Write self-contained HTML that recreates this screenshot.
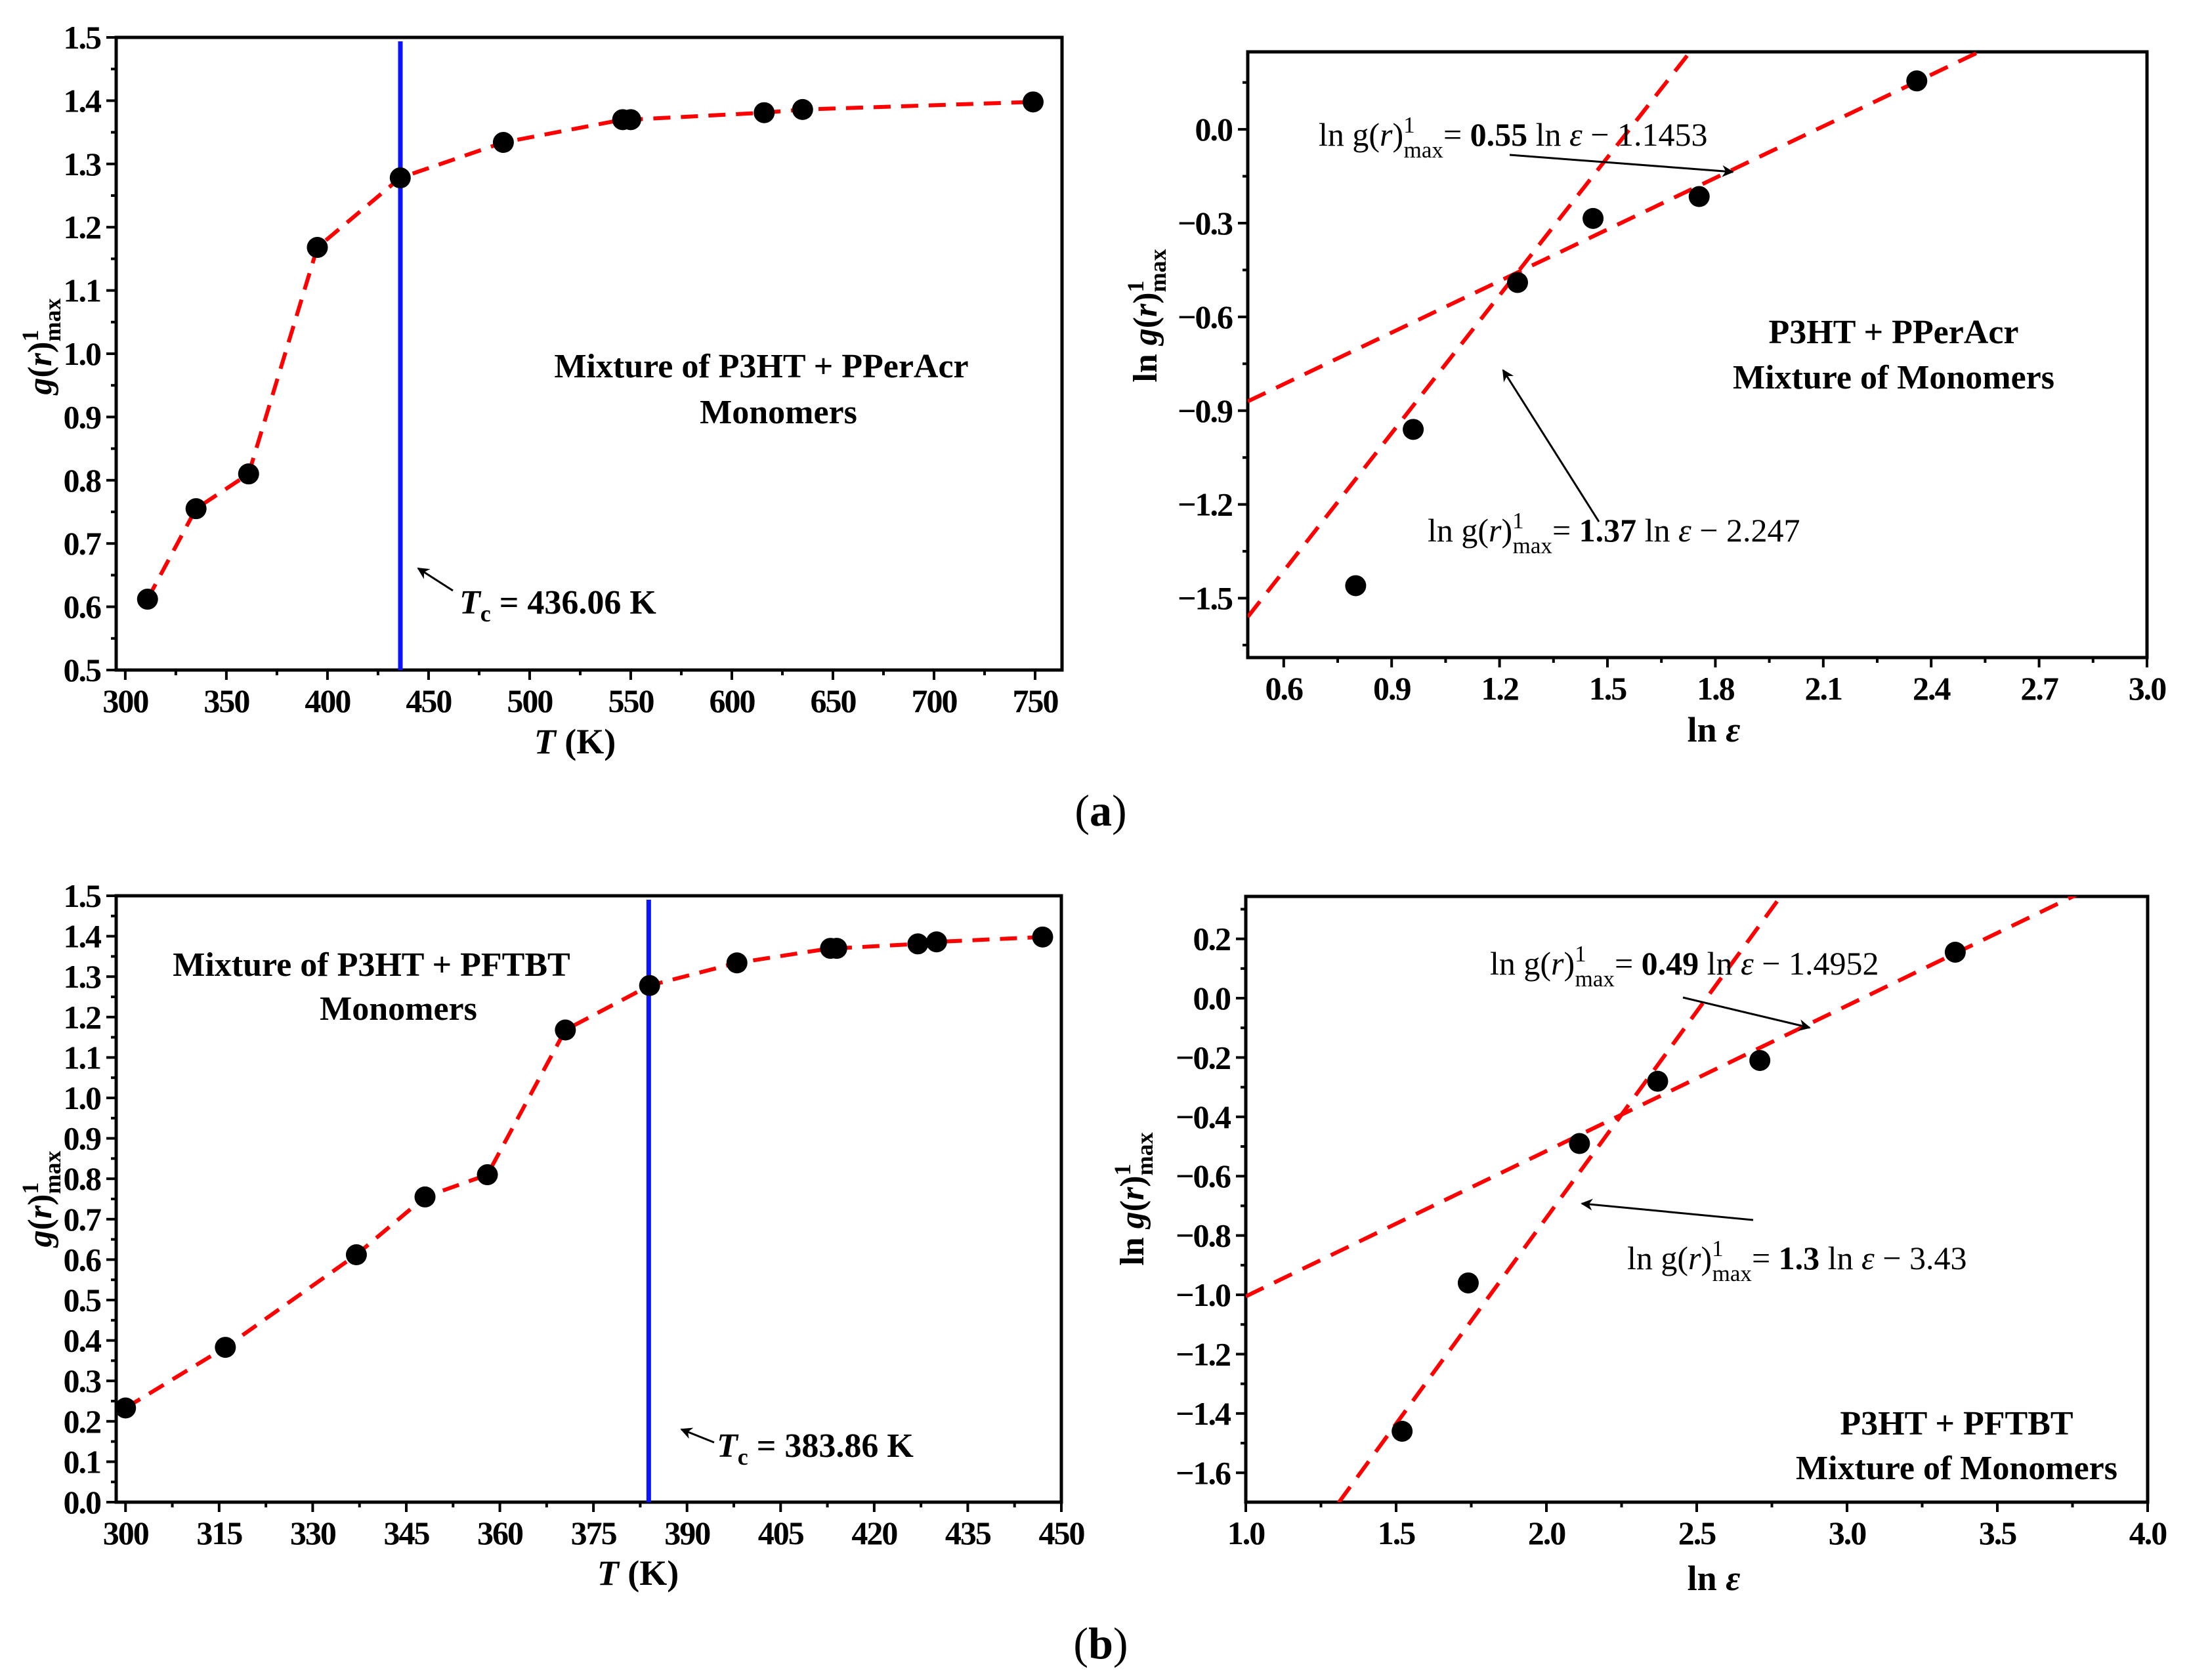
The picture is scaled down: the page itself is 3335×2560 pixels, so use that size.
<!DOCTYPE html>
<html><head><meta charset="utf-8"><style>
html,body{margin:0;padding:0;background:#fff}
svg{display:block}
text{font-family:"Liberation Serif",serif;fill:#000}
</style></head><body>
<svg id="fig" width="3335" height="2560" viewBox="0 0 3335 2560" xmlns="http://www.w3.org/2000/svg">
<defs>
<marker id="ahb" viewBox="0 0 10 10" refX="9" refY="5" markerWidth="24" markerHeight="18" orient="auto" markerUnits="userSpaceOnUse"><path d="M0,0 L10,5 L0,10 L3,5 Z" fill="#000"/></marker></defs>
<g id="layer"></g>
<g font-size="50">
 <text x="1160" y="575" text-anchor="middle" font-weight="bold" font-size="52">Mixture of P3HT + PPerAcr</text>
 <text x="1186" y="645" text-anchor="middle" font-weight="bold" font-size="52">Monomers</text>
 <text x="700" y="935" font-weight="bold" font-size="52"><tspan font-style="italic">T</tspan><tspan font-size="36" dy="12">c</tspan><tspan dy="-12"> = 436.06 K</tspan></text>
 <line x1="690" y1="900" x2="637" y2="866" stroke="#000" stroke-width="3" marker-end="url(#ahb)"/>
 <text x="2009" y="222" font-size="50">ln g(<tspan font-style="italic">r</tspan>)<tspan font-size="35" dy="-20">1</tspan><tspan font-size="35" dx="-17" dy="38">max</tspan><tspan dy="-18">= </tspan><tspan font-weight="bold">0.55</tspan> ln <tspan font-style="italic">ε</tspan> − 1.1453</text>
 <line x1="2300" y1="236" x2="2640" y2="262" stroke="#000" stroke-width="3" marker-end="url(#ahb)"/>
 <text x="2175" y="825" font-size="50">ln g(<tspan font-style="italic">r</tspan>)<tspan font-size="35" dy="-20">1</tspan><tspan font-size="35" dx="-17" dy="38">max</tspan><tspan dy="-18">= </tspan><tspan font-weight="bold">1.37</tspan> ln <tspan font-style="italic">ε</tspan> − 2.247</text>
 <line x1="2436" y1="795" x2="2290" y2="564" stroke="#000" stroke-width="3" marker-end="url(#ahb)"/>
 <text x="2885" y="523" text-anchor="middle" font-weight="bold" font-size="52">P3HT + PPerAcr</text>
 <text x="2885" y="592" text-anchor="middle" font-weight="bold" font-size="52">Mixture of Monomers</text>
 <text x="1677" y="1258" text-anchor="middle" font-size="68">(<tspan font-weight="bold">a</tspan>)</text>

 <text x="566" y="1487" text-anchor="middle" font-weight="bold" font-size="52">Mixture of P3HT + PFTBT</text>
 <text x="607" y="1554" text-anchor="middle" font-weight="bold" font-size="52">Monomers</text>
 <text x="1092" y="2220" font-weight="bold" font-size="52"><tspan font-style="italic">T</tspan><tspan font-size="36" dy="12">c</tspan><tspan dy="-12"> = 383.86 K</tspan></text>
 <line x1="1088" y1="2198" x2="1038" y2="2178" stroke="#000" stroke-width="3" marker-end="url(#ahb)"/>
 <text x="2270" y="1485" font-size="50">ln g(<tspan font-style="italic">r</tspan>)<tspan font-size="35" dy="-20">1</tspan><tspan font-size="35" dx="-17" dy="38">max</tspan><tspan dy="-18">= </tspan><tspan font-weight="bold">0.49</tspan> ln <tspan font-style="italic">ε</tspan> − 1.4952</text>
 <line x1="2564" y1="1520" x2="2757" y2="1566" stroke="#000" stroke-width="3" marker-end="url(#ahb)"/>
 <text x="2479" y="1934" font-size="50">ln g(<tspan font-style="italic">r</tspan>)<tspan font-size="35" dy="-20">1</tspan><tspan font-size="35" dx="-17" dy="38">max</tspan><tspan dy="-18">= </tspan><tspan font-weight="bold">1.3</tspan> ln <tspan font-style="italic">ε</tspan> − 3.43</text>
 <line x1="2671" y1="1859" x2="2410" y2="1834" stroke="#000" stroke-width="3" marker-end="url(#ahb)"/>
 <text x="2981" y="2186" text-anchor="middle" font-weight="bold" font-size="52">P3HT + PFTBT</text>
 <text x="2981" y="2254" text-anchor="middle" font-weight="bold" font-size="52">Mixture of Monomers</text>
 <text x="1677" y="2527" text-anchor="middle" font-size="68">(<tspan font-weight="bold">b</tspan>)</text>
</g>
</svg>
<script>
// ---- data ----
const aTemps = [311, 335, 361, 395, 436, 487, 546, 550, 616, 635, 749];
const aG = [0.612, 0.755, 0.81, 1.168, 1.278, 1.334, 1.37, 1.37, 1.381, 1.386, 1.398];
const aTc = 436.06;
const bTemps = [300, 316, 337, 348, 358, 370.5, 384, 398, 413, 414, 427, 430, 447];
const bG = [0.233, 0.383, 0.612, 0.755, 0.81, 1.168, 1.278, 1.334, 1.37, 1.37, 1.381, 1.386, 1.398];
const bTc = 383.86;
const aLnEps = [0.80, 0.96, 1.25, 1.46, 1.755, 2.36];
const aLnG = [-1.46, -0.96, -0.49, -0.285, -0.215, 0.155];
const aFitSlopes = [0.55, 1.47];
const aFitIntercepts = [-1.1453, -2.295];
const bLnEps = [1.52, 1.74, 2.11, 2.37, 2.71, 3.36];
const bLnG = [-1.46, -0.96, -0.49, -0.28, -0.21, 0.155];
const bFitSlopes = [0.49, 1.39];
const bFitIntercepts = [-1.4952, -3.52];
const aLeftXTicks = [300,350,400,450,500,550,600,650,700,750];
const aLeftYTicks = [0.5,0.6,0.7,0.8,0.9,1.0,1.1,1.2,1.3,1.4,1.5];
const aRightXTicks = [0.6,0.9,1.2,1.5,1.8,2.1,2.4,2.7,3.0];
const aRightYTicks = [-1.5,-1.2,-0.9,-0.6,-0.3,0.0];
const bLeftXTicks = [300,315,330,345,360,375,390,405,420,435,450];
const bLeftYTicks = [0.0,0.1,0.2,0.3,0.4,0.5,0.6,0.7,0.8,0.9,1.0,1.1,1.2,1.3,1.4,1.5];
const bRightXTicks = [1.0,1.5,2.0,2.5,3.0,3.5,4.0];
const bRightYTicks = [-1.6,-1.4,-1.2,-1.0,-0.8,-0.6,-0.4,-0.2,0.0,0.2];

const NS = "http://www.w3.org/2000/svg";
const layer = document.getElementById('layer');
function mk(tag, attrs, parent){
  const e = document.createElementNS(NS, tag);
  for (const k in attrs) e.setAttribute(k, attrs[k]);
  (parent||layer).appendChild(e);
  return e;
}
function fmt(v, d){ const s = Math.abs(v).toFixed(d); return (v < -1e-9 ? '\u2212' : '') + s; }

function panel(p){
  const g = mk('g', {});
  
  
  const sx = v => p.x0 + (v - p.xmin) / (p.xmax - p.xmin) * (p.x1 - p.x0);
  const sy = v => p.y1 - (v - p.ymin) / (p.ymax - p.ymin) * (p.y1 - p.y0);
  const cid = 'clip-' + p.name;
  const cp = mk('clipPath', {id: cid}, g);
  mk('rect', {x: p.x0, y: p.y0, width: p.x1 - p.x0, height: p.y1 - p.y0}, cp);
  const box = mk('rect', {x: p.x0, y: p.y0, width: p.x1 - p.x0, height: p.y1 - p.y0, fill: 'none', stroke: '#000', 'stroke-width': 5}, g);
  
  
  p.xt.forEach(v => {
    const X = sx(v);
    const t = mk('line', {x1: X, x2: X, y1: p.y1, y2: p.y1 + 15, stroke: '#000', 'stroke-width': 4}, g);
    
    
    const l = mk('text', {x: X, y: p.y1 + 64, 'text-anchor': 'middle', 'font-size': 50, 'font-weight': 'bold', 'letter-spacing': -2}, g);
    
    
    l.textContent = fmt(v, p.xd);
  });
  for (let i = 0; i < p.xt.length - 1; i++) {
    const X = sx((p.xt[i] + p.xt[i+1]) / 2);
    const m = mk('line', {x1: X, x2: X, y1: p.y1, y2: p.y1 + 8, stroke: '#000', 'stroke-width': 4}, g);
    
    
  }
  p.yt.forEach(v => {
    const Y = sy(v);
    const t = mk('line', {x1: p.x0 - 15, x2: p.x0, y1: Y, y2: Y, stroke: '#000', 'stroke-width': 4}, g);
    
    
    const l = mk('text', {x: p.x0 - 24, y: Y + 17, 'text-anchor': 'end', 'font-size': 50, 'font-weight': 'bold', 'letter-spacing': -2}, g);
    
    
    l.textContent = fmt(v, 1);
  });
  const ys = p.yt[1] - p.yt[0];
  for (let v = p.yt[0] - ys/2; v <= p.ymax + 1e-9; v += ys) {
    if (v < p.ymin) continue;
    const Y = sy(v);
    const m = mk('line', {x1: p.x0 - 8, x2: p.x0, y1: Y, y2: Y, stroke: '#000', 'stroke-width': 4}, g);
    
    
  }
  const xt = mk('text', {x: p.xlx, y: p.xly, 'text-anchor': 'middle', 'font-size': 54, 'font-weight': 'bold'}, g);
  
  
  xt.innerHTML = p.xlabel;
  const yt = mk('text', {x: 0, y: 0, 'text-anchor': 'middle', 'font-size': 52, 'font-weight': 'bold', transform: 'translate(' + p.ylx + ',' + p.yly + ') rotate(-90)'}, g);
  
  
  yt.innerHTML = p.ylabel;
  const pg = mk('g', {'clip-path': 'url(#' + cid + ')'}, g);
  if (p.tc !== undefined) {
    const X = sx(p.tc);
    const tl = mk('line', {x1: X, x2: X, y1: p.y0 + 6, y2: p.y1, stroke: '#0a14ff', 'stroke-width': 7}, pg);
    
    
  }
  if (p.connect) {
    const pts = p.xs.map((v, i) => sx(v) + ',' + sy(p.ys[i])).join(' ');
    const pl = mk('polyline', {points: pts, fill: 'none', stroke: '#ff0000', 'stroke-width': 6, 'stroke-dasharray': '26 16'}, pg);
    
    
  }
  if (p.slopes) {
    p.slopes.forEach((m, i) => {
      const b = p.ints[i];
      const xa = p.xmin, xb = p.xmax;
      const fl = mk('line', {x1: sx(xa), y1: sy(m*xa + b), x2: sx(xb), y2: sy(m*xb + b), stroke: '#ff0000', 'stroke-width': 6, 'stroke-dasharray': '30 18'}, pg);
      
      
    });
  }
  p.xs.forEach((v, i) => {
    const c = mk('circle', {cx: sx(v), cy: sy(p.ys[i]), r: 16, fill: '#000'}, g);
    
    
  });
}

const gLabel = '<tspan font-style="italic">g</tspan>(<tspan font-style="italic">r</tspan>)<tspan font-size="36" dy="-20">1</tspan><tspan font-size="36" dx="-18" dy="34">max</tspan>';
panel({name:'chart-a-left', x0:177, x1:1618, y0:57, y1:1021, xmin:295.5, xmax:763.3, ymin:0.5, ymax:1.5,
  xt:aLeftXTicks, yt:aLeftYTicks, xd:0, xs:aTemps, ys:aG, connect:true, tc:aTc,
  xlabel:'<tspan font-style="italic">T</tspan> (K)', xlx:876, xly:1148, ylabel:gLabel, ylx:78, yly:528});
panel({name:'chart-a-right', x0:1901, x1:3271, y0:79, y1:1002, xmin:0.5, xmax:3.0, ymin:-1.69, ymax:0.248,
  xt:aRightXTicks, yt:aRightYTicks, xd:1, xs:aLnEps, ys:aLnG, slopes:aFitSlopes, ints:aFitIntercepts,
  xlabel:'ln <tspan font-style="italic">ε</tspan>', xlx:2611, xly:1130, ylabel:'ln '+gLabel, ylx:1762, yly:481});
panel({name:'chart-b-left', x0:177, x1:1617, y0:1365, y1:2289, xmin:298.5, xmax:450, ymin:0, ymax:1.5,
  xt:bLeftXTicks, yt:bLeftYTicks, xd:0, xs:bTemps, ys:bG, connect:true, tc:bTc,
  xlabel:'<tspan font-style="italic">T</tspan> (K)', xlx:972, xly:2415, ylabel:gLabel, ylx:78, yly:1827});
panel({name:'chart-b-right', x0:1898, x1:3272, y0:1366, y1:2289, xmin:1.0, xmax:4.0, ymin:-1.699, ymax:0.343,
  xt:bRightXTicks, yt:bRightYTicks, xd:1, xs:bLnEps, ys:bLnG, slopes:bFitSlopes, ints:bFitIntercepts,
  xlabel:'ln <tspan font-style="italic">ε</tspan>', xlx:2611, xly:2423, ylabel:'ln '+gLabel, ylx:1742, yly:1827});
</script>
</body></html>
